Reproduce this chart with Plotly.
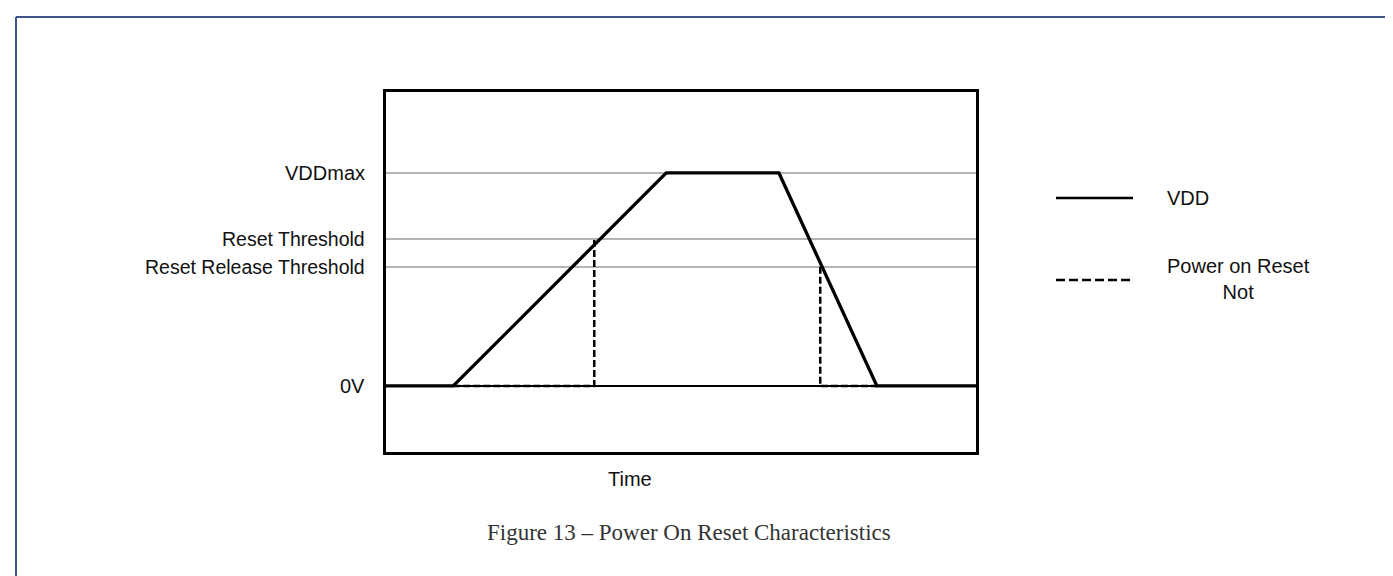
import plotly.graph_objects as go

# ---- data ----
level_names = ["VDDmax", "Reset Threshold", "Reset Release Threshold", "0V"]
level_values = [1.0, 0.69, 0.56, 0.0]
level_font_sizes = [20, 19.5, 19.5, 20]

vdd_t = [0, 11.4, 47.5, 66.6, 83.2, 100]
vdd_v = [0, 0, 1.0, 1.0, 0, 0]

por_t = [11.4, 35.3, 35.3, None, 73.6, 73.6, 83.2]
por_v = [0, 0, 0.69, None, 0.56, 0, 0]

legend_names = ["VDD", "Power on Reset<br>Not"]
x_title = "Time"
caption = "Figure 13 \u2013 Power On Reset Characteristics"

# ---- figure geometry (pixels) ----
W, H = 1393, 576
L, R, T, B = 378, 968, 84, 444
pw, ph = R - L, B - T


def px(x):
    return (x - L) / pw


def py(y):
    return (B - y) / ph


fig = go.Figure()

fig.add_trace(go.Scatter(x=por_t, y=por_v, mode="lines", connectgaps=False,
                         line=dict(color="black", width=2.5, dash="7px,3px"),
                         showlegend=False, hoverinfo="skip"))
fig.add_trace(go.Scatter(x=vdd_t, y=vdd_v, mode="lines",
                         line=dict(color="black", width=3.3),
                         showlegend=False, hoverinfo="skip"))

grid_vals = [v for v in level_values if v != 0]

fig.update_layout(
    width=W, height=H,
    margin=dict(l=L, r=W - R, t=T, b=H - B),
    paper_bgcolor="white", plot_bgcolor="white",
    showlegend=False,
    xaxis=dict(range=[0, 100], showgrid=False, zeroline=False,
               showticklabels=False, ticks="", showline=True, mirror=True,
               linecolor="black", linewidth=2.5, fixedrange=True),
    yaxis=dict(range=[-0.31, 1.38], tickvals=grid_vals, showticklabels=False,
               ticks="", showgrid=True, gridcolor="#b4b4b4", gridwidth=1.5,
               zeroline=True, zerolinecolor="black", zerolinewidth=2,
               showline=True, mirror=True, linecolor="black", linewidth=2.5,
               fixedrange=True),
    font=dict(family="Liberation Sans, Arial, sans-serif", color="#111"),
)

# level labels
for name, val, fs in zip(level_names, level_values, level_font_sizes):
    fig.add_annotation(x=px(359), y=val, xref="paper", yref="y", text=name,
                       showarrow=False, xanchor="right", yanchor="middle",
                       font=dict(size=fs))

# axis title
fig.add_annotation(x=px(622), y=py(471), xref="paper", yref="paper", text=x_title,
                   showarrow=False, xanchor="center", yanchor="middle",
                   font=dict(size=20))

# caption
fig.add_annotation(x=px(681), y=py(524), xref="paper", yref="paper", text=caption,
                   showarrow=False, xanchor="center", yanchor="middle",
                   font=dict(size=23, family="Liberation Serif, Times New Roman, serif",
                             color="#333"))

# custom legend
leg_y = [190, 272]
leg_dash = ["solid", "9px,4px"]
for name, yy, dsh in zip(legend_names, leg_y, leg_dash):
    fig.add_shape(type="line", xref="paper", yref="paper",
                  x0=px(1048), x1=px(1125), y0=py(yy), y1=py(yy),
                  line=dict(color="black", width=2.5, dash=dsh))
fig.add_annotation(x=px(1157), y=py(190), xref="paper", yref="paper", text=legend_names[0],
                   showarrow=False, xanchor="left", yanchor="middle", font=dict(size=20))
fig.add_annotation(x=px(1230), y=py(271), xref="paper", yref="paper", text=legend_names[1],
                   showarrow=False, xanchor="center", yanchor="middle",
                   font=dict(size=20))

# page frame (top and left edges)
frame = dict(color="#3d5488", width=2)
fig.add_shape(type="line", xref="paper", yref="paper",
              x0=px(8), x1=px(W + 5), y0=py(9), y1=py(9), line=frame)
fig.add_shape(type="line", xref="paper", yref="paper",
              x0=px(8), x1=px(8), y0=py(9), y1=py(H + 5), line=frame)

fig.write_html("out.html")
